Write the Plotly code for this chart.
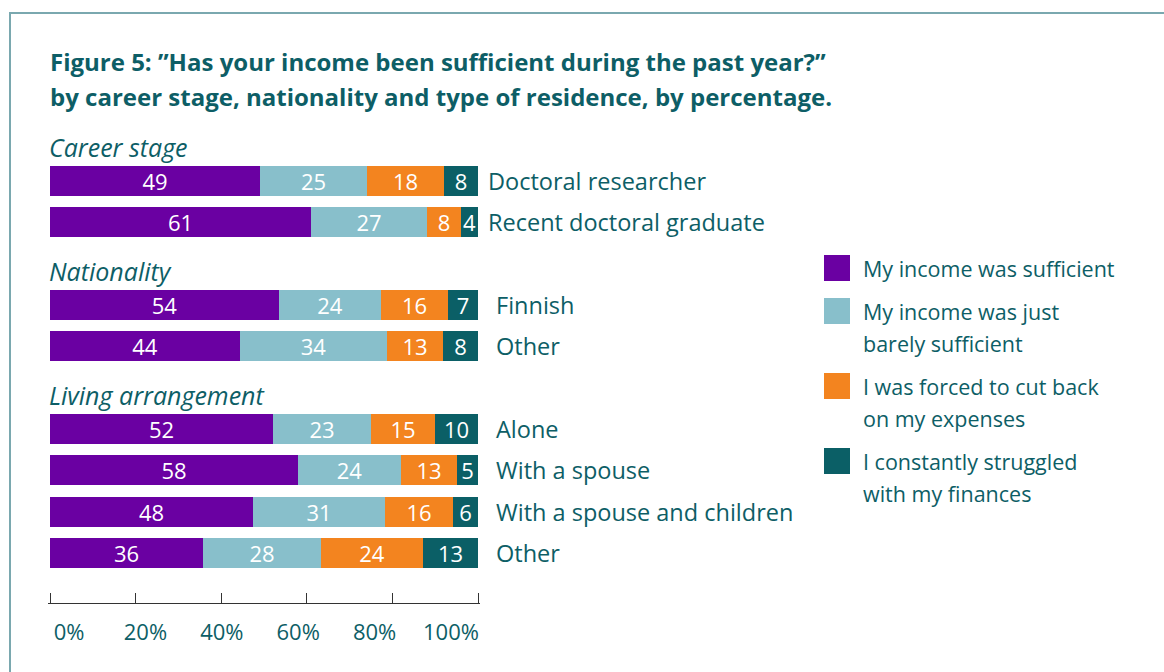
import plotly.graph_objects as go

# ---- data -------------------------------------------------------------
groups = ["Career stage", "Nationality", "Living arrangement"]
group_rows = [
    ["Doctoral researcher", "Recent doctoral graduate"],
    ["Finnish", "Other"],
    ["Alone", "With a spouse", "With a spouse and children", "Other"],
]
sufficient = [49, 61, 54, 44, 52, 58, 48, 36]
barely = [25, 27, 24, 34, 23, 24, 31, 28]
cut_back = [18, 8, 16, 13, 15, 13, 16, 24]
struggled = [8, 4, 7, 8, 10, 5, 6, 13]

series_names = [
    "My income was sufficient",
    "My income was just\nbarely sufficient",
    "I was forced to cut back\non my expenses",
    "I constantly struggled\nwith my finances",
]
series_values = [sufficient, barely, cut_back, struggled]
series_colors = ["#6a00a2", "#88bfcb", "#f3841f", "#0b5f66"]

tick_values = [0, 20, 40, 60, 80, 100]
tick_labels = ["0%", "20%", "40%", "60%", "80%", "100%"]

title_lines = [
    "Figure 5: \u201dHas your income been sufficient during the past year?\u201d",
    "by career stage, nationality and type of residence, by percentage.",
]

# ---- styling ----------------------------------------------------------
TEXT = "#0d5e66"
FONT = "Open Sans"
W, H = 1164, 672
X0, X1 = 50, 478          # pixel span of 0 % .. 100 %
L, R, T, B = 48, 480, 119, 603   # plot area (2 px spare so edge ticks are kept)
u_per_px = 100 / (X1 - X0)
x_range = [-(X0 - L) * u_per_px, 100 + (R - X1) * u_per_px]


def px_x(p):
    return (p - L) / (R - L)


def px_y(p):
    return (B - p) / (B - T)


# category slots: one header slot per group followed by its rows
slots, row_keys, header_keys, row_names, row_group = [], [], [], [], []
for gi, (g, rows) in enumerate(zip(groups, group_rows)):
    hk = f"hdr|{g}"
    slots.append(hk)
    header_keys.append(hk)
    for r in rows:
        k = f"{g}|{r}"
        slots.append(k)
        row_keys.append(k)
        row_names.append(r)
        row_group.append(gi)

fig = go.Figure()
for name, vals, col in zip(series_names, series_values, series_colors):
    fig.add_trace(go.Bar(
        y=row_keys, x=vals, orientation="h",
        name=name.replace("\n", " "),
        marker=dict(color=col, line=dict(width=0)),
        text=[str(v) for v in vals],
        textposition="inside", insidetextanchor="middle", textangle=0,
        textfont=dict(color="white", size=22, family=FONT),
        width=0.726, showlegend=False, hoverinfo="skip",
    ))

# empty trace carrying the tick-label axis
fig.add_trace(go.Scatter(x=[None], y=[None], xaxis="x2", showlegend=False,
                         hoverinfo="skip"))

ann = []
# title
for i, line in enumerate(title_lines):
    ann.append(dict(text=f"<b>{line}</b>", xref="paper", yref="paper",
                    x=px_x(50), y=px_y(61 + 35 * i), xanchor="left",
                    yanchor="middle", xshift=-2, showarrow=False,
                    font=dict(size=24, color=TEXT, family=FONT)))
# group headers
for g, hk in zip(groups, header_keys):
    ann.append(dict(text=f"<i>{g}</i>", xref="x", yref="y", x=0, y=hk,
                    xanchor="left", yanchor="middle", yshift=-7, xshift=-3,
                    showarrow=False, font=dict(size=25, color=TEXT, family=FONT)))
# row labels to the right of each bar
label_shift = [8, 16, 16]
for k, r, gi in zip(row_keys, row_names, row_group):
    ann.append(dict(text=r, xref="x", yref="y", x=100, y=k, xanchor="left",
                    yanchor="middle", xshift=label_shift[gi], showarrow=False,
                    font=dict(size=23.5, color=TEXT, family=FONT)))

# legend: coloured squares with wrapped labels
shapes = []
ly = 268
for name, col in zip(series_names, series_colors):
    lines = name.split("\n")
    shapes.append(dict(type="rect", xref="paper", yref="paper",
                       x0=px_x(824), x1=px_x(850), y0=px_y(ly + 13), y1=px_y(ly - 13),
                       fillcolor=col, line=dict(width=0)))
    for j, ln in enumerate(lines):
        ann.append(dict(text=ln, xref="paper", yref="paper", x=px_x(861),
                        y=px_y(ly + 32 * j), xanchor="left", yanchor="middle",
                        showarrow=False, font=dict(size=21.5, color=TEXT, family=FONT)))
    ly += 32 * len(lines) + 11

# frame around the figure
shapes.append(dict(type="rect", xref="paper", yref="paper",
                   x0=px_x(10), x1=px_x(W + 20), y0=px_y(H + 20), y1=px_y(13),
                   line=dict(color="#7aa8af", width=2), fillcolor="rgba(0,0,0,0)",
                   layer="below"))

# second axis used only for the percentage labels, spread a little narrower
lab_left, lab_right = 69, 451
span = 100 * (R - L) / (lab_right - lab_left)
r0 = -(lab_left - L) / (R - L) * span

n_slots = len(slots)
fig.update_layout(
    width=W, height=H,
    margin=dict(l=L, r=W - R, t=T, b=H - B, pad=0),
    paper_bgcolor="white", plot_bgcolor="white",
    barmode="stack", barnorm="percent", bargap=0,
    font=dict(family=FONT, color=TEXT),
    xaxis=dict(range=x_range, tickvals=tick_values, showticklabels=False,
               ticks="inside", ticklen=10, tickcolor="#333", tickwidth=1.3,
               showline=True, linecolor="#333", linewidth=1.3,
               showgrid=False, zeroline=False, fixedrange=True),
    xaxis2=dict(overlaying="x", side="bottom", anchor="y",
                range=[r0, r0 + span], tickvals=tick_values, ticktext=tick_labels,
                ticks="", showline=False, showgrid=False, zeroline=False,
                ticklabelstandoff=14,
                tickfont=dict(size=22, color=TEXT, family=FONT)),
    yaxis=dict(type="category", categoryorder="array", categoryarray=slots,
               range=[n_slots - 0.5 + 0.71, -0.5], autorange=False,
               showticklabels=False, showgrid=False, zeroline=False, ticks=""),
    annotations=ann, shapes=shapes,
    uniformtext=dict(minsize=22, mode="show"),
    showlegend=False,
)

fig.write_html("out.html")
